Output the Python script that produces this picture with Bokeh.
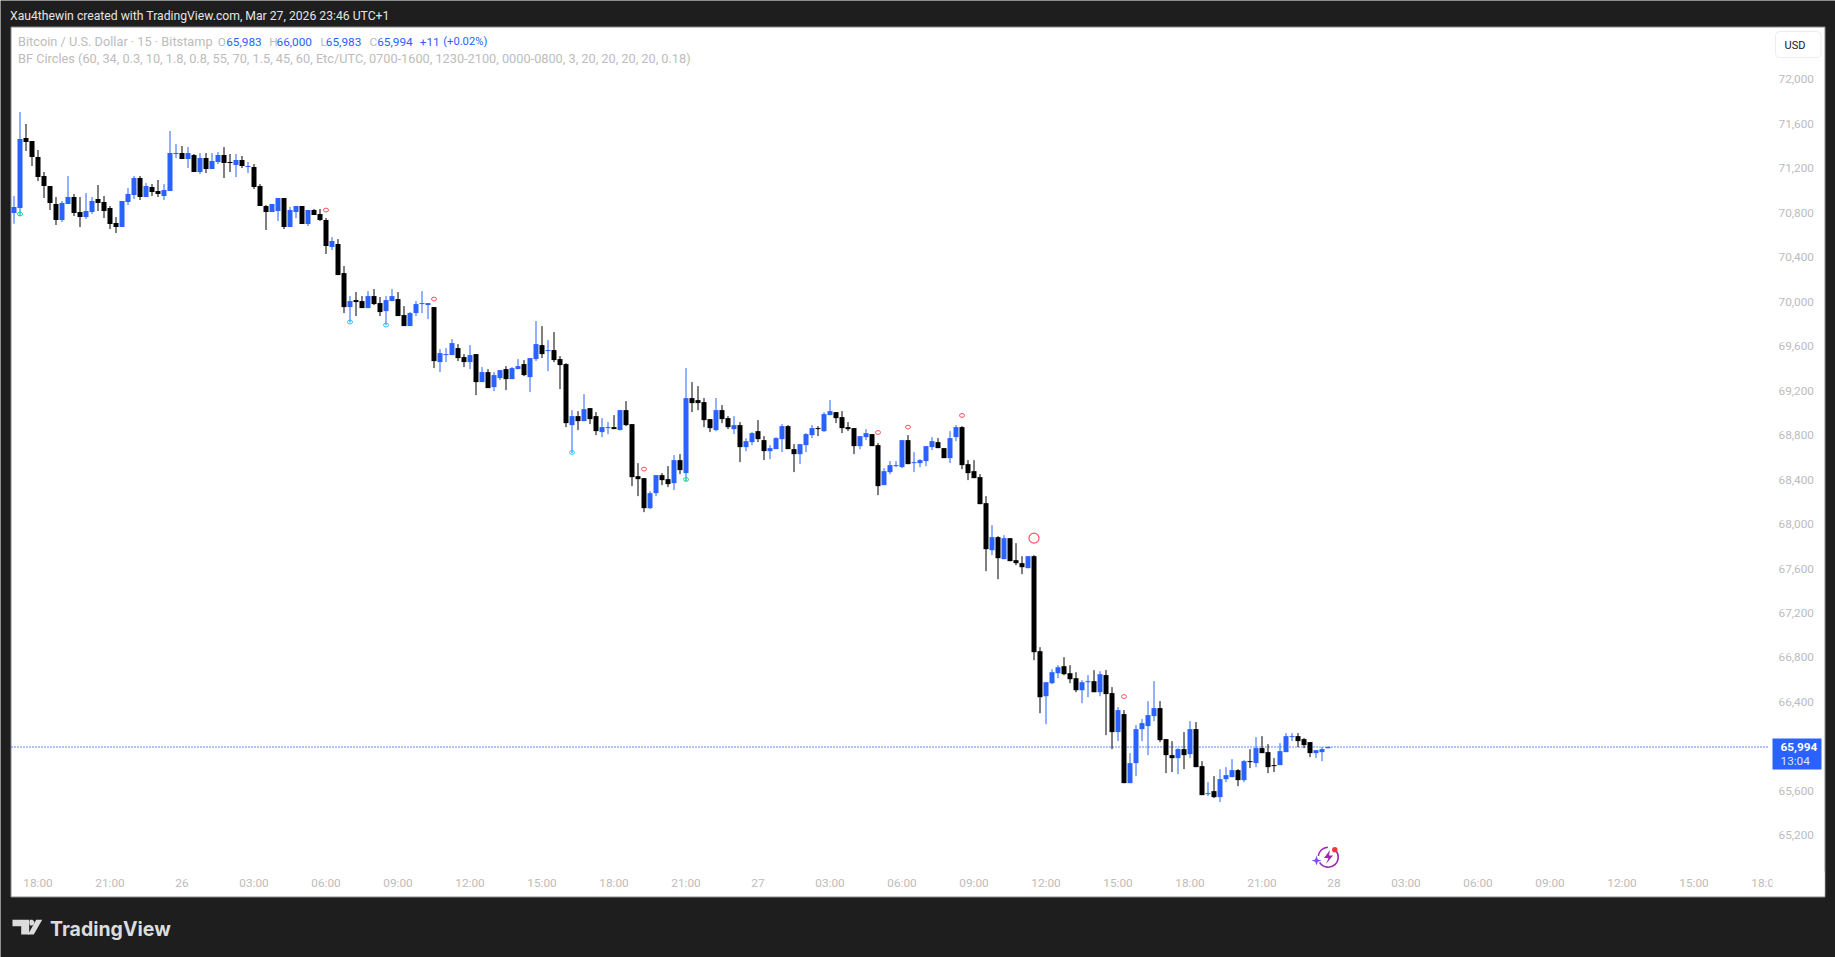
from bokeh.embed import file_html
from bokeh.resources import INLINE
from bokeh.plotting import figure
from bokeh.models import (Range1d, FixedTicker, NumeralTickFormatter, Label, BoxAnnotation,
                          PolyAnnotation, LinearAxis, ColumnDataSource)

opens = [
70798,70843,71473,71446,71302,71131,71041,70879,70735,70879,
70942,70807,70762,70807,70924,70897,70843,70708,70672,70897,
70960,71113,70942,71032,70996,70951,70996,71329,71338,71284,
71320,71167,71293,71194,71257,71320,71257,71230,71275,71212,
71212,71041,70861,70807,70816,70933,70672,70807,70861,70699,
70825,70789,70735,70492,70519,70258,69952,70015,70006,69943,
70051,69988,69916,70006,70024,69880,69781,69898,69979,69970,
69952,69457,69520,69520,69583,69502,69457,69529,69277,69367,
69232,69313,69394,69304,69394,69439,69322,69484,69610,69556,
69565,69484,69439,68890,68971,68926,69043,68971,68827,68863,
68872,68845,69025,68899,68431,68413,68143,68278,68440,68404,
68368,68575,68458,69133,69115,69097,68944,68845,69025,68953,
68854,68890,68692,68737,68836,68755,68656,68674,68764,68881,
68674,68629,68710,68800,68863,68836,68980,69007,68962,68872,
68863,68701,68782,68809,68710,68350,68467,68521,68512,68755,
68548,68548,68566,68692,68737,68683,68593,68782,68872,68539,
68476,68422,68188,67765,67882,67684,67873,67675,67648,67603,
67711,66856,66451,66568,66658,66721,66658,66613,66505,66577,
66586,66487,66641,66479,66128,66290,65669,65849,66155,66182,
66272,66344,66065,65921,65894,65975,65930,66155,65822,65570,
65597,65543,65705,65723,65786,65696,65867,65849,65984,65948,
65831,65831,65948,66083,66092,66065,66038,65939,65948,65983]

closes = [
70852,71464,71437,71302,71122,71041,70888,70735,70888,70942,
70798,70762,70816,70906,70888,70816,70699,70672,70906,70969,
71113,70942,71041,70987,70969,71005,71338,71338,71284,71338,
71167,71293,71194,71266,71320,71248,71248,71275,71221,71221,
71032,70861,70807,70879,70933,70672,70825,70861,70699,70825,
70780,70735,70501,70546,70240,69952,70006,69997,69943,70051,
69979,69907,70015,70051,69871,69781,69898,69979,69988,69988,
69466,69538,69529,69628,69493,69457,69520,69277,69367,69223,
69340,69385,69304,69403,69421,69340,69493,69619,69529,69565,
69475,69430,68908,68971,68926,69034,68944,68836,68872,68872,
68854,69025,68890,68422,68404,68143,68278,68440,68395,68359,
68575,68485,69133,69088,69088,68935,68863,69025,68944,68872,
68890,68692,68746,68818,68764,68656,68683,68773,68881,68674,
68629,68719,68809,68863,68854,68989,69016,68953,68863,68854,
68701,68791,68818,68701,68341,68476,68530,68530,68755,68539,
68557,68575,68701,68746,68683,68593,68773,68872,68530,68458,
68413,68179,67774,67882,67693,67873,67666,67648,67612,67711,
66847,66442,66577,66667,66712,66649,66604,66505,66577,66586,
66487,66649,66470,66128,66326,65669,65849,66155,66209,66281,
66344,66056,65921,65894,65975,65921,66155,65813,65561,65579,
65543,65705,65741,65786,65696,65867,65858,65984,65939,65813,
65822,65957,66092,66092,66047,66011,65939,65966,65975,65994]

highs = [
70951,71707,71599,71446,71365,71167,71041,70942,70906,71131,
70969,70942,70978,70942,71050,70951,70861,70762,70906,71023,
71131,71131,71068,71059,71095,71059,71536,71419,71401,71392,
71329,71338,71338,71338,71347,71392,71329,71329,71311,71257,
71239,71059,70870,70879,70933,70933,70852,70861,70861,70825,
70834,70834,70753,70582,70564,70321,70051,70087,70051,70096,
70114,70042,70051,70114,70087,69961,69907,70006,70096,69988,
69952,69574,69583,69664,69619,69529,69610,69529,69412,69394,
69367,69385,69421,69412,69484,69475,69493,69826,69781,69655,
69727,69511,69448,69025,69016,69169,69043,69007,68953,68917,
68980,69025,69106,68899,68548,68413,68296,68440,68458,68521,
68620,68629,69403,69277,69241,69133,68944,69133,69070,68971,
68971,68917,68773,68827,68935,68791,68710,68782,68899,68890,
68719,68719,68818,68890,68881,69007,69115,69007,69016,68917,
68863,68791,68854,68809,68728,68503,68566,68566,68755,68800,
68647,68584,68701,68782,68773,68683,68836,68890,68881,68575,
68575,68449,68251,67990,67891,67900,67873,67828,67711,67711,
67720,66892,66577,66694,66730,66802,66730,66667,66595,66640,
66685,66676,66686,66533,66353,66326,65939,66191,66245,66407,
66587,66407,66065,66047,65984,66128,66227,66218,65867,65678,
65732,65795,65813,65885,65795,65876,65975,66083,66092,66020,
65894,66029,66119,66119,66119,66074,66038,65966,65993,66000]

lows = [
70702,70771,71356,71221,71086,70933,70825,70690,70717,70879,
70771,70672,70744,70789,70816,70753,70654,70618,70672,70870,
70924,70915,70942,70951,70942,70915,70996,71293,71284,71203,
71167,71149,71158,71194,71239,71113,71167,71122,71203,71158,
71014,70861,70645,70807,70726,70654,70672,70753,70699,70681,
70780,70726,70429,70465,70240,69898,69814,69871,69943,69943,
69970,69871,69790,70006,69871,69781,69781,69871,69898,69844,
69403,69367,69457,69520,69466,69412,69394,69160,69277,69223,
69196,69295,69205,69304,69394,69331,69187,69466,69493,69376,
69457,69214,68872,68638,68845,68926,68899,68800,68782,68809,
68854,68845,68881,68341,68251,68107,68134,68251,68350,68332,
68305,68449,68386,69007,69025,68872,68827,68836,68908,68854,
68809,68557,68656,68710,68737,68575,68584,68674,68647,68674,
68467,68539,68647,68773,68791,68827,68980,68908,68818,68836,
68629,68674,68755,68701,68260,68350,68449,68512,68503,68539,
68467,68512,68521,68665,68683,68593,68548,68746,68494,68395,
68413,68179,67576,67720,67504,67684,67666,67630,67549,67603,
66775,66298,66199,66559,66613,66640,66568,66487,66388,66442,
66487,66451,66101,65975,66047,65669,65669,65732,66047,65921,
66227,66038,65759,65768,65750,65795,65894,65813,65561,65552,
65534,65498,65678,65723,65642,65678,65804,65813,65939,65759,
65768,65831,65948,66047,65993,65984,65903,65894,65867,65983]

red_bars = [52, 70, 105, 144, 149, 158, 185]
red_prices = [70825, 70024, 68494, 68824, 68872, 68977, 66448]
green_bars = [1, 112]
green_prices = [70789, 68401]
cyan_bars = [56, 62, 93]
cyan_prices = [69817, 69790, 68644]
big_red_bars = [170]
big_red_prices = [67873]

time_ticks = [4, 16, 28, 40, 52, 64, 76, 88, 100, 112, 124, 136, 148, 160, 172, 184, 196, 208, 220,
              232, 244, 256, 268, 280, 292]
time_labels = ["18:00", "21:00", "26", "03:00", "06:00", "09:00", "12:00", "15:00", "18:00", "21:00",
               "27", "03:00", "06:00", "09:00", "12:00", "15:00", "18:00", "21:00", "28",
               "03:00", "06:00", "09:00", "12:00", "15:00", "18:00"]
price_ticks = [65200, 65600, 66000, 66400, 66800, 67200, 67600, 68000, 68400, 68800, 69200, 69600,
               70000, 70400, 70800, 71200, 71600, 72000]
last_price = 65994

UP = "#2962ff"
DOWN = "#000000"
DARK = "#1e1e1e"
MUTED = "#bcbcbc"
FONT = "Roboto"
W, H = 1835, 957
FS_TEXT = 12.75
FS_NUM = 11.8
X_STANDOFF = -40
Y_STANDOFF = -80

PX_PER_BAR = 6.0
PX_PER_USD = 0.11115
BAR0_PX = 13.5
P72000_PX = 78.94


def dx(px):
    return (px - BAR0_PX) / PX_PER_BAR


def dy(py):
    return 72000 - (py - P72000_PX) / PX_PER_USD


p = figure(width=W, height=H, output_backend="svg", toolbar_location=None,
           x_range=Range1d(dx(0), dx(W)), y_range=Range1d(dy(H), dy(0)),
           x_axis_location=None, y_axis_location=None,
           min_border=0, background_fill_color=DARK, border_fill_color=DARK, outline_line_color=None)
p.grid.visible = False


def box(l, r, t, b, fill, line=None, radius=0, level="underlay"):
    a = BoxAnnotation(left=l, right=r, top=H - t, bottom=H - b,
                      left_units="screen", right_units="screen", top_units="screen", bottom_units="screen",
                      fill_color=fill, fill_alpha=1.0, line_color=line, line_alpha=1.0 if line else 0,
                      border_radius=radius, level=level, editable=False)
    p.add_layout(a)


def poly(pts, fill):
    a = PolyAnnotation(xs=[x for x, _ in pts], ys=[H - y for _, y in pts],
                       xs_units="screen", ys_units="screen", fill_color=fill, fill_alpha=1.0,
                       line_color=None, level="overlay", editable=False)
    p.add_layout(a)


def label(text, px, py, color=MUTED, size=FS_TEXT, style="normal", align="left", font=FONT):
    p.add_layout(Label(x=px, y=H - py, x_units="screen", y_units="screen", text=text, text_color=color,
                       text_font=font, text_font_size=f"{size}px", text_font_style=style,
                       text_baseline="middle", text_align=align, level="overlay"))


# white chart pane with a thin grey edge
box(10.5, 1824.5, 26.5, 896.5, "white", line="#8a8a8a")

# last price line, from the left edge of the pane to the price scale
p.line(x=[dx(11), dx(1769)], y=[last_price, last_price], line_color=UP, line_width=1.3, line_dash=[1, 2])

# candles
idx = list(range(len(opens)))
src = ColumnDataSource(dict(
    x=idx, o=opens, c=closes, h=highs, l=lows,
    top=[max(a, b) for a, b in zip(opens, closes)],
    bottom=[min(a, b) for a, b in zip(opens, closes)],
    color=[UP if b >= a else DOWN for a, b in zip(opens, closes)]))
p.segment(x0="x", y0="l", x1="x", y1="h", color="color", line_width=1, source=src)
p.vbar(x="x", top="top", bottom="bottom", width=5 / 6, fill_color="color", line_color=None, source=src)

# indicator circles
p.ellipse(x=red_bars, y=red_prices, width=5, height=3.8, width_units="screen", height_units="screen",
          fill_color=None, line_color="#f7525f", line_width=1)
p.ellipse(x=green_bars, y=green_prices, width=5, height=3.8, width_units="screen", height_units="screen",
          fill_color=None, line_color="#00e676", line_width=1)
p.ellipse(x=cyan_bars, y=cyan_prices, width=5, height=3.8, width_units="screen", height_units="screen",
          fill_color=None, line_color="#29c5f6", line_width=1)
p.ellipse(x=big_red_bars, y=big_red_prices, width=10, height=10, width_units="screen", height_units="screen",
          fill_color=None, line_color="#f7525f", line_width=1.2)

# axes drawn inside the full-canvas frame; their side panels take no room
xax = LinearAxis(ticker=FixedTicker(ticks=time_ticks),
                 major_label_overrides=dict(zip(time_ticks, time_labels)),
                 fixed_location=dy(869 - X_STANDOFF),
                 axis_line_color=None, major_tick_line_color=None, minor_tick_line_color=None,
                 major_label_text_color=MUTED, major_label_text_font=FONT,
                 major_label_text_font_size=f"{FS_NUM}px", major_label_standoff=X_STANDOFF)
p.add_layout(xax, "below")
yax = LinearAxis(ticker=FixedTicker(ticks=price_ticks), formatter=NumeralTickFormatter(format="0,0"),
                 fixed_location=dx(1772 - Y_STANDOFF),
                 axis_line_color=None, major_tick_line_color=None, minor_tick_line_color=None,
                 major_label_text_color=MUTED, major_label_text_font=FONT,
                 major_label_text_font_size=f"{FS_NUM}px", major_label_standoff=Y_STANDOFF)
p.add_layout(yax, "right")

# the time axis is cut at the price scale
box(1772, 1824, 871, 895, "white", level="annotation")

# header
label("Xau4thewin created with TradingView.com, Mar 27, 2026 23:46 UTC+1", 9.5, 15, color="#e4e4e4", size=12.2)

# legend rows
label("Bitcoin / U.S. Dollar · 15 · Bitstamp", 17.5, 41)
label("O", 217.3, 41, size=FS_NUM)
label("65,983", 225.7, 41, color=UP, size=FS_NUM)
label("H", 268.7, 41, size=FS_NUM)
label("66,000", 276, 41, color=UP, size=FS_NUM)
label("L", 320, 41, size=FS_NUM)
label("65,983", 325.3, 41, color=UP, size=FS_NUM)
label("C", 369, 41, size=FS_NUM)
label("65,994", 376.7, 41, color=UP, size=FS_NUM)
label("+11", 419.3, 41, color=UP, size=FS_NUM)
label("(+0.02%)", 442.7, 41, color=UP, size=11.2)
label("BF Circles (60, 34, 0.3, 10, 1.8, 0.8, 55, 70, 1.5, 45, 60, Etc/UTC, 0700-1600, 1230-2100, 0000-0800, 3, 20, 20, 20, 20, 0.18)",
      17.5, 58)

# USD button
box(1775, 1820.5, 31, 57, "white", line="#ececec", radius=4, level="annotation")
label("USD", 1784, 44.5, color="#131722", size=11)

# last price tag
box(1772, 1821, 738, 769, UP, level="annotation")
label("65,994", 1780, 746, color="white", style="bold", size=FS_NUM)
label("13:04", 1780, 760, color="#dbe5ff", size=FS_NUM)

# footer mark
LOGO = "#dcdcdc"
poly([(12, 919.3), (28.7, 919.3), (28.7, 934), (20.7, 934), (20.7, 925.7), (12, 925.7)], LOGO)
poly([(35.7, 919.3), (41.7, 919.3), (33.3, 934), (27.5, 934)], LOGO)
poly([(29.6, 919.3), (32, 919.3), (33.7, 921), (33.7, 923.2), (32, 925), (29.6, 925), (28.9, 923.2), (28.9, 921)], LOGO)
label("TradingView", 49.5, 928, color=LOGO, size=19.5, style="bold", font="Inter")

# notification icon
p.arc(x=[dx(1327.7)], y=[dy(856.7)], radius=10, radius_units="screen", start_angle=-2.6, end_angle=1.0,
      line_color="#9c27b0", line_width=1.6)
p.arc(x=[dx(1327.7)], y=[dy(856.7)], radius=10, radius_units="screen", start_angle=1.6, end_angle=3.0,
      line_color="#9c27b0", line_width=1.6)
poly([(1329.5, 849.5), (1323.5, 857.5), (1328, 857.5), (1325.5, 863.5), (1332.5, 855), (1328.5, 855)], "#9c27b0")
poly([(1316, 855), (1317.3, 859), (1321, 860), (1317.3, 861.2), (1316, 865), (1314.7, 861.2), (1311, 860), (1314.7, 859)], "#7b4dff")
p.scatter(x=[dx(1334.3)], y=[dy(849.2)], size=5.5, color="#f23645", line_color=None)

open("out.html", "w").write(file_html(p, INLINE))
